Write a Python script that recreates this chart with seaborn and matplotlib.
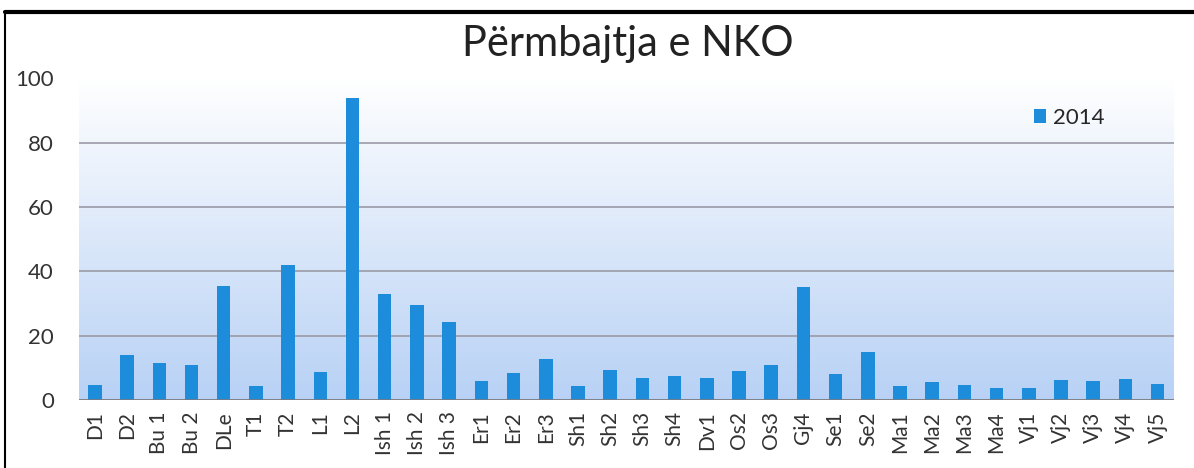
import pandas as pd
import seaborn as sns
import matplotlib.pyplot as plt
import numpy as np

# station codes and NKO values (2014)
stations = ['D1', 'D2', 'Bu 1', 'Bu 2', 'DLe', 'T1', 'T2', 'L1', 'L2',
            'Ish 1', 'Ish 2', 'Ish 3', 'Er1', 'Er2', 'Er3', 'Sh1', 'Sh2',
            'Sh3', 'Sh4', 'Dv1', 'Os2', 'Os3', 'Gj4', 'Se1', 'Se2', 'Ma1',
            'Ma2', 'Ma3', 'Ma4', 'Vj1', 'Vj2', 'Vj3', 'Vj4', 'Vj5']
nko_2014 = [4.8, 14.0, 11.5, 11.0, 35.4, 4.4, 42.0, 8.7, 93.8,
            33.0, 29.7, 24.3, 5.9, 8.3, 12.7, 4.3, 9.3,
            7.0, 7.5, 7.0, 9.0, 11.0, 35.0, 8.0, 15.0, 4.3,
            5.5, 4.8, 3.8, 3.8, 6.2, 5.9, 6.6, 5.1]
year = '2014'
y_ticks = [0, 20, 40, 60, 80, 100]

df = pd.DataFrame({'Stacioni': stations, 'NKO': nko_2014, 'Viti': year})

sns.set_style('white')
plt.rcParams['font.family'] = ['Lato', 'DejaVu Sans']

fig = plt.figure(figsize=(11.94, 4.68), dpi=100)
ax = fig.add_axes([0.066, 0.145, 0.917, 0.688])

# gradient background: white at top, light blue at bottom
grad = np.linspace(0, 1, 256).reshape(-1, 1)
top_c = np.array([1.0, 1.0, 1.0])
bot_c = np.array([0.72, 0.82, 0.96])
img = top_c * (1 - grad[..., None]) + bot_c * grad[..., None]
img = img.reshape(256, 1, 3)
ax.imshow(img, extent=[0, 1, 0, 1], transform=ax.transAxes,
          aspect='auto', zorder=0)

sns.barplot(data=df, x='Stacioni', y='NKO', hue='Viti', saturation=1,
            palette=['#1d8cdb'], width=0.42, linewidth=0, ax=ax, zorder=3)

ax.set_ylim(0, 100)
ax.set_xlim(-0.5, len(stations) - 0.5)
ax.set_yticks(y_ticks)
for v in y_ticks[1:-1]:
    ax.axhline(v, color='#9a9aa6', lw=1.2, zorder=1)
ax.axhline(0, color='#7a7a80', lw=2, zorder=4)

for s in ax.spines.values():
    s.set_visible(False)
ax.set_xlabel('')
ax.set_ylabel('')
ax.tick_params(axis='x', labelrotation=90, labelsize=15, colors='#333333', length=0, pad=8)
ax.tick_params(axis='y', labelsize=16, colors='#333333', length=0, pad=18)

fig.text(0.526, 0.905, 'Përmbajtja e NKO', fontsize=30, ha='center', va='center',
         color='#222222')

leg = ax.legend(loc='upper right', bbox_to_anchor=(0.955, 0.97), frameon=False,
                fontsize=16, handlelength=0.55, handleheight=0.55, handletextpad=0.3)

# outer chart frame (top and left edges)
fig.add_artist(plt.Line2D([0.004, 1.0], [0.974, 0.974], color='black', lw=3,
                          transform=fig.transFigure))
fig.add_artist(plt.Line2D([0.004, 0.004], [0.0, 0.974], color='black', lw=1.5,
                          transform=fig.transFigure))

fig.savefig('out.png', dpi=100)
